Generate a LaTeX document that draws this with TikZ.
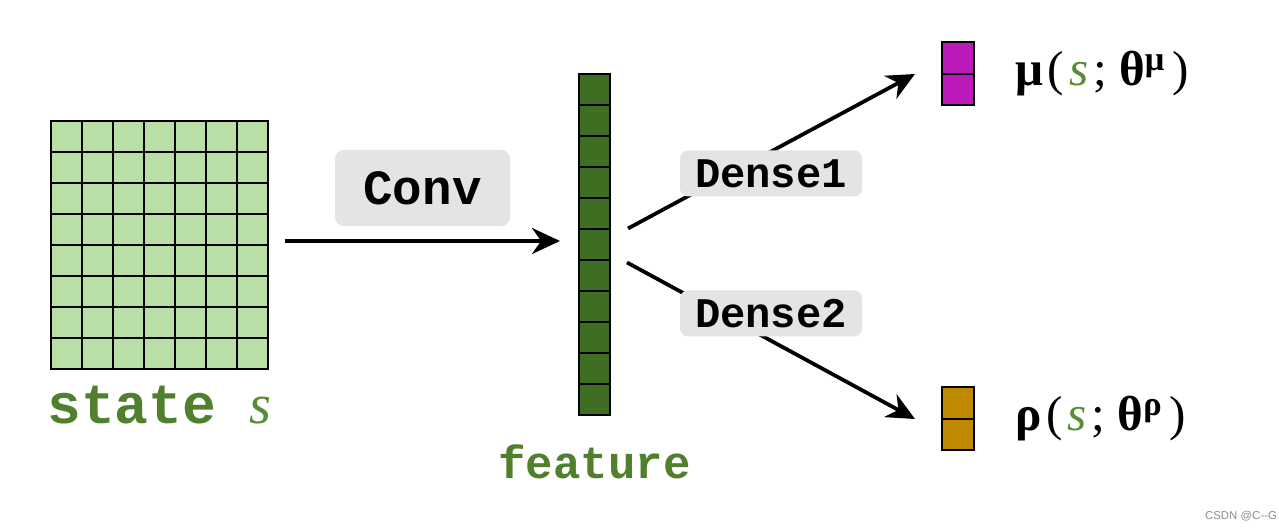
\documentclass[tikz,border=0pt]{standalone}
\usepackage{xcolor}
\usepackage{fontspec}
\usepackage{tikz}
\usetikzlibrary{arrows.meta, positioning, calc}

\newfontfamily\codefont{Liberation Mono}
\newfontfamily\greekfont{Liberation Serif}
\newfontfamily\markfont{Liberation Sans}

\definecolor{cellgreen}{RGB}{185,222,166}
\definecolor{featgreen}{RGB}{62,110,34}
\definecolor{textgreen}{RGB}{80,128,45}
\definecolor{sgreen}{RGB}{86,140,52}
\definecolor{mumagenta}{RGB}{187,26,187}
\definecolor{rhogold}{RGB}{192,138,0}
\definecolor{boxgray}{RGB}{228,227,230}

\begin{document}
\begin{tikzpicture}[
		inner sep=0pt,
		outer sep=0pt,
		arrow/.style={
				-{Stealth[length=0.56cm,width=0.52cm]},
				line width=0.075cm,
				black
			},
		gridbox/.style={
				rectangle,
				line width=0.04cm,
				draw=black
			},
		convbox/.style={
				rectangle,
				minimum width = 3.5cm,
				minimum height = 1.52cm,
				rounded corners=0.18cm,
				fill=boxgray,
				font=\codefont\bfseries\fontsize{28}{28}\selectfont
			},
		densebox/.style={
				rectangle,
				minimum width = 3.64cm,
				minimum height = 0.92cm,
				rounded corners=0.16cm,
				fill=boxgray,
				font=\codefont\bfseries\fontsize{24}{24}\selectfont
			},
		namelabel/.style={
				text=textgreen,
				font=\codefont\bfseries\fontsize{32}{32}\selectfont
			},
		mathlabel/.style={
				font=\greekfont\fontsize{28}{28}\selectfont
			},
		]

		\useasboundingbox (0,0) rectangle (25.58,10.6);

		% input state and feature vector
		\node[gridbox, fill=cellgreen, minimum width=4.34cm, minimum height=4.96cm] (state) at (3.19,5.70) {};
		\foreach \i in {1,...,6}
			\draw[line width=0.04cm] ([xshift=\i*0.62cm]state.south west) -- ([xshift=\i*0.62cm]state.north west);
		\foreach \j in {1,...,7}
			\draw[line width=0.04cm] ([yshift=\j*0.62cm]state.south west) -- ([yshift=\j*0.62cm]state.south east);

		\node[gridbox, fill=featgreen, minimum width=0.62cm, minimum height=6.82cm, right=6.22cm of state] (feature) {};
		\foreach \j in {1,...,10}
			\draw[line width=0.04cm] ([yshift=\j*0.62cm]feature.south west) -- ([yshift=\j*0.62cm]feature.south east);

		% outputs
		\node[gridbox, fill=mumagenta, minimum width=0.64cm, minimum height=1.26cm] (mu) at ([shift={(7.27,3.42)}]feature) {};
		\draw[line width=0.04cm] (mu.west) -- (mu.east);

		\node[gridbox, fill=rhogold, minimum width=0.64cm, minimum height=1.26cm] (rho) at ([shift={(7.27,-3.48)}]feature) {};
		\draw[line width=0.04cm] (rho.west) -- (rho.east);

		% connectors
		\draw[arrow] ([xshift=0.34cm,yshift=0.08cm]state.east) -- node[convbox, above=0.3cm] (conv) {Conv} ([xshift=-0.38cm,yshift=0.08cm]feature.west);

		\draw[arrow] ([shift={(0.36,0.33)}]feature.east) -- ([xshift=-0.54cm]mu.west);

		\draw[arrow] ([shift={(0.34,-0.35)}]feature.east) -- ([xshift=-0.54cm]rho.west);

		\node[densebox] (dense1) at ([shift={(3.53,1.43)}]feature) {Dense1};

		\node[densebox] (dense2) at ([shift={(3.53,-1.37)}]feature) {Dense2};

		% labels
		\node[namelabel, below=1.1cm of state, anchor=base] (statetext) {state {\greekfont\mdseries\itshape\color{sgreen}s}};

		\node[namelabel, font=\codefont\bfseries\fontsize{26}{26}\selectfont, below=1.26cm of feature, anchor=base] (featuretext) {feature};

		\node[mathlabel, right=0.82cm of mu] (mutext) {{\bfseries μ}\kern0.1em(\kern0.1em{\itshape\color{sgreen}s}\kern0.1em;\kern0.25em{\bfseries θ}\textsuperscript{\bfseries μ}\kern0.15em)};

		\node[mathlabel, right=0.82cm of rho] (rhotext) {{\bfseries ρ}\kern0.1em(\kern0.1em{\itshape\color{sgreen}s}\kern0.1em;\kern0.25em{\bfseries θ}\textsuperscript{\bfseries ρ}\kern0.15em)};

		\node[font=\markfont\fontsize{6.5}{6.5}\selectfont, text=black!45] (mark) at (24.82,0.27) {CSDN @C-{}-G};

	\end{tikzpicture}
\end{document}
